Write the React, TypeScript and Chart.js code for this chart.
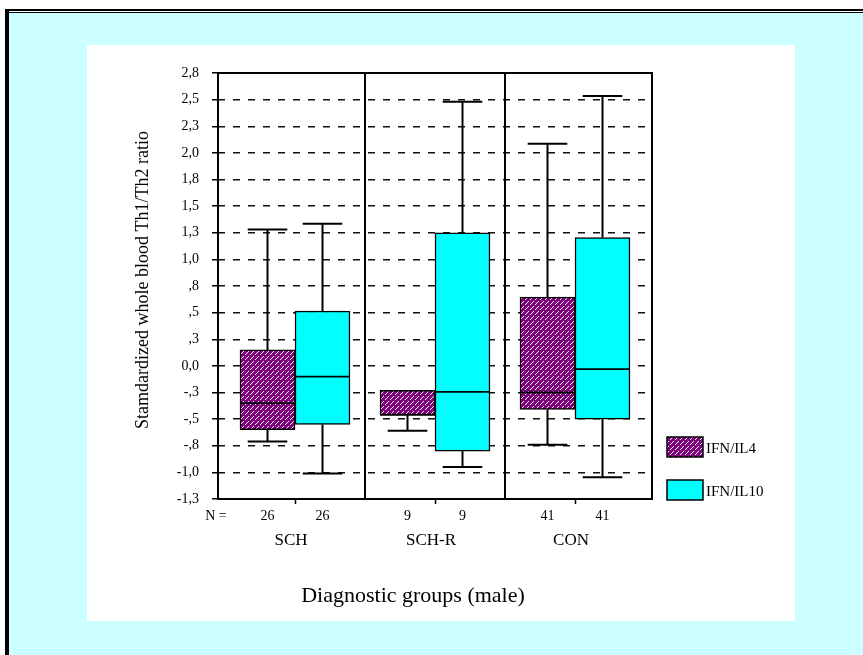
import React, { useEffect, useRef } from 'react';
import { Chart, registerables } from 'chart.js';

Chart.register(...registerables);

// ---- data ----
const groupLabels = ['SCH', 'SCH-R', 'CON'];
const groupPositions = [0, 1, 2];
const seriesLabels = ['IFN/IL4', 'IFN/IL10'];

const il4N = [26, 9, 41];
const il4WhiskerLow = [-0.71, -0.61, -0.74];
const il4Q1 = [-0.6, -0.46, -0.41];
const il4Median = [-0.35, -0.46, -0.25];
const il4Q3 = [0.15, -0.23, 0.645];
const il4WhiskerHigh = [1.28, -0.23, 2.085];

const il10N = [26, 9, 41];
const il10WhiskerLow = [-1.01, -0.95, -1.045];
const il10Q1 = [-0.55, -0.8, -0.5];
const il10Median = [-0.1, -0.245, -0.03];
const il10Q3 = [0.515, 1.25, 1.205];
const il10WhiskerHigh = [1.335, 2.48, 2.535];

const yTickValues = [-1.25, -1, -0.75, -0.5, -0.25, 0, 0.25, 0.5, 0.75, 1, 1.25, 1.5, 1.75, 2, 2.25, 2.5, 2.75];
const yTickLabels = ['-1,3', '-1,0', '-,8', '-,5', '-,3', '0,0', ',3', ',5', ',8', '1,0', '1,3', '1,5', '1,8', '2,0', '2,3', '2,5', '2,8'];

const yTitle = 'Stamdardized whole blood Th1/Th2 ratio';
const xTitle = 'Diagnostic groups (male)';
const nLabel = 'N =';

const FONT = "'Liberation Serif', 'Times New Roman', serif";
const PURPLE = '#800080';
const CYAN = '#00ffff';

function makeHatch(): CanvasPattern | string {
  const c = document.createElement('canvas');
  c.width = 10;
  c.height = 10;
  const g = c.getContext('2d');
  if (!g) return PURPLE;
  g.fillStyle = PURPLE;
  g.fillRect(0, 0, 10, 10);
  g.fillStyle = '#ffffff';
  for (let x = 0; x < 10; x++) {
    for (let y = 0; y < 10; y++) {
      if ((x + y) % 5 === 4 && x % 5 < 4) g.fillRect(x, y, 1, 1);
    }
  }
  return g.createPattern(c, 'repeat') || PURPLE;
}

const boxPlugin = {
  id: 'boxExtras',
  beforeDraw(chart: any) {
    const { ctx, width, height } = chart;
    ctx.save();
    ctx.fillStyle = '#ffffff';
    ctx.fillRect(0, 0, width, height);
    ctx.fillStyle = '#ccffff';
    ctx.fillRect(9, 13, width - 9, height - 13);
    ctx.fillStyle = '#000000';
    ctx.fillRect(5, 9, width - 5, 2);
    ctx.fillRect(5, 12, width - 5, 1);
    ctx.fillRect(5, 9, 4, height - 9);
    ctx.fillStyle = '#ffffff';
    ctx.fillRect(87, 45, 708, 576);
    ctx.restore();
  },
  afterDatasetsDraw(chart: any) {
    const { ctx, chartArea: a, scales } = chart;
    const ys = scales.y;
    const xs = scales.x;
    ctx.save();
    ctx.strokeStyle = '#000000';
    ctx.lineCap = 'butt';
    chart.data.datasets.forEach((ds: any, di: number) => {
      const meta = chart.getDatasetMeta(di);
      meta.data.forEach((bar: any, i: number) => {
        const { x: cx, width: w } = bar.getProps(['x', 'width'], true);
        const q1 = ds.data[i].y[0];
        const q3 = ds.data[i].y[1];
        const med = ds.median[i];
        const lo = ds.whiskerLow[i];
        const hi = ds.whiskerHigh[i];
        const capW = w * 0.72;
        ctx.lineWidth = 2;
        if (hi > q3) {
          ctx.beginPath();
          ctx.moveTo(cx, ys.getPixelForValue(q3));
          ctx.lineTo(cx, ys.getPixelForValue(hi));
          ctx.stroke();
          ctx.beginPath();
          ctx.moveTo(cx - capW / 2, ys.getPixelForValue(hi));
          ctx.lineTo(cx + capW / 2, ys.getPixelForValue(hi));
          ctx.stroke();
        }
        if (lo < q1) {
          ctx.beginPath();
          ctx.moveTo(cx, ys.getPixelForValue(q1));
          ctx.lineTo(cx, ys.getPixelForValue(lo));
          ctx.stroke();
          ctx.beginPath();
          ctx.moveTo(cx - capW / 2, ys.getPixelForValue(lo));
          ctx.lineTo(cx + capW / 2, ys.getPixelForValue(lo));
          ctx.stroke();
        }
        ctx.lineWidth = 1.8;
        ctx.beginPath();
        ctx.moveTo(cx - w / 2, ys.getPixelForValue(med));
        ctx.lineTo(cx + w / 2, ys.getPixelForValue(med));
        ctx.stroke();
        ctx.fillStyle = '#000000';
        ctx.font = `14px ${FONT}`;
        ctx.textAlign = 'center';
        ctx.textBaseline = 'middle';
        ctx.fillText(String(ds.counts[i]), cx, 516);
      });
    });
    ctx.lineWidth = 2;
    ctx.strokeRect(a.left, a.top, a.right - a.left, a.bottom - a.top);
    [0.5, 1.5].forEach((v) => {
      const px = xs.getPixelForValue(v);
      ctx.beginPath();
      ctx.moveTo(px, a.top);
      ctx.lineTo(px, a.bottom);
      ctx.stroke();
    });
    ctx.fillStyle = '#000000';
    ctx.textAlign = 'center';
    ctx.textBaseline = 'middle';
    ctx.font = `14px ${FONT}`;
    ctx.fillText(nLabel, 216, 516);
    ctx.font = `17px ${FONT}`;
    groupLabels.forEach((g, i) => {
      ctx.fillText(g, xs.getPixelForValue(groupPositions[i]) - 4, 541);
    });
    ctx.font = `22px ${FONT}`;
    ctx.fillText(xTitle, 413, 596);
    ctx.save();
    ctx.translate(143, 280);
    ctx.rotate(-Math.PI / 2);
    ctx.font = `18px ${FONT}`;
    ctx.fillText(yTitle, 0, 0);
    ctx.restore();
    chart.data.datasets.forEach((ds: any, di: number) => {
      const top = di === 0 ? 437 : 480;
      ctx.fillStyle = ds.backgroundColor;
      ctx.fillRect(667, top, 36, 20);
      ctx.lineWidth = 1.5;
      ctx.strokeRect(667, top, 36, 20);
      ctx.fillStyle = '#000000';
      ctx.font = `15px ${FONT}`;
      ctx.textAlign = 'left';
      ctx.fillText(ds.label, 706, top + 12);
    });
    ctx.restore();
  },
};

export default function App() {
  const ref = useRef<HTMLCanvasElement>(null);
  useEffect(() => {
    const canvas = ref.current;
    if (!canvas) return;
    const hatch = makeHatch();
    const chart = new Chart(canvas, {
      type: 'bar',
      data: {
        datasets: [
          {
            label: seriesLabels[0],
            data: groupPositions.map((g, i) => ({ x: g, y: [il4Q1[i], il4Q3[i]] })),
            backgroundColor: hatch,
            borderColor: '#000000',
            borderWidth: 1.5,
            borderSkipped: false,
            barThickness: 55,
            median: il4Median,
            whiskerLow: il4WhiskerLow,
            whiskerHigh: il4WhiskerHigh,
            counts: il4N,
          } as any,
          {
            label: seriesLabels[1],
            data: groupPositions.map((g, i) => ({ x: g, y: [il10Q1[i], il10Q3[i]] })),
            backgroundColor: CYAN,
            borderColor: '#000000',
            borderWidth: 1.5,
            borderSkipped: false,
            barThickness: 55,
            median: il10Median,
            whiskerLow: il10WhiskerLow,
            whiskerHigh: il10WhiskerHigh,
            counts: il10N,
          } as any,
        ],
      },
      options: {
        animation: false,
        responsive: false,
        layout: { padding: { left: 0, top: 73, right: 211, bottom: 0 } },
        plugins: { legend: { display: false }, tooltip: { enabled: false } },
        scales: {
          x: {
            type: 'linear',
            min: -0.55,
            max: 2.55,
            offset: false,
            afterBuildTicks: (s: any) => {
              s.ticks = groupPositions.map((v) => ({ value: v }));
            },
            afterFit: (s: any) => {
              s.height = 156;
            },
            ticks: { display: false },
            grid: { offset: false, drawOnChartArea: false, drawTicks: true, tickLength: 5, tickColor: '#000000', tickWidth: 1.5 },
            border: { display: false },
          },
          y: {
            type: 'linear',
            min: -1.25,
            max: 2.75,
            afterBuildTicks: (s: any) => {
              s.ticks = yTickValues.map((v) => ({ value: v }));
            },
            afterFit: (s: any) => {
              s.width = 218;
            },
            ticks: {
              callback: (_v: any, idx: number) => yTickLabels[idx],
              font: { size: 14, family: FONT },
              color: '#000000',
              padding: 13,
            },
            grid: { color: '#111111', lineWidth: 1.5, tickColor: '#000000', tickLength: 6, tickWidth: 1.5, tickBorderDash: [] },
            border: { display: false, dash: [7, 8] },
          },
        },
      } as any,
      plugins: [boxPlugin],
    });
    return () => chart.destroy();
  }, []);
  return (
    <div style={{ position: 'absolute', left: 0, top: 0, width: 863, height: 655 }}>
      <canvas ref={ref} width={863} height={655} style={{ display: 'block', width: 863, height: 655 }} />
    </div>
  );
}
